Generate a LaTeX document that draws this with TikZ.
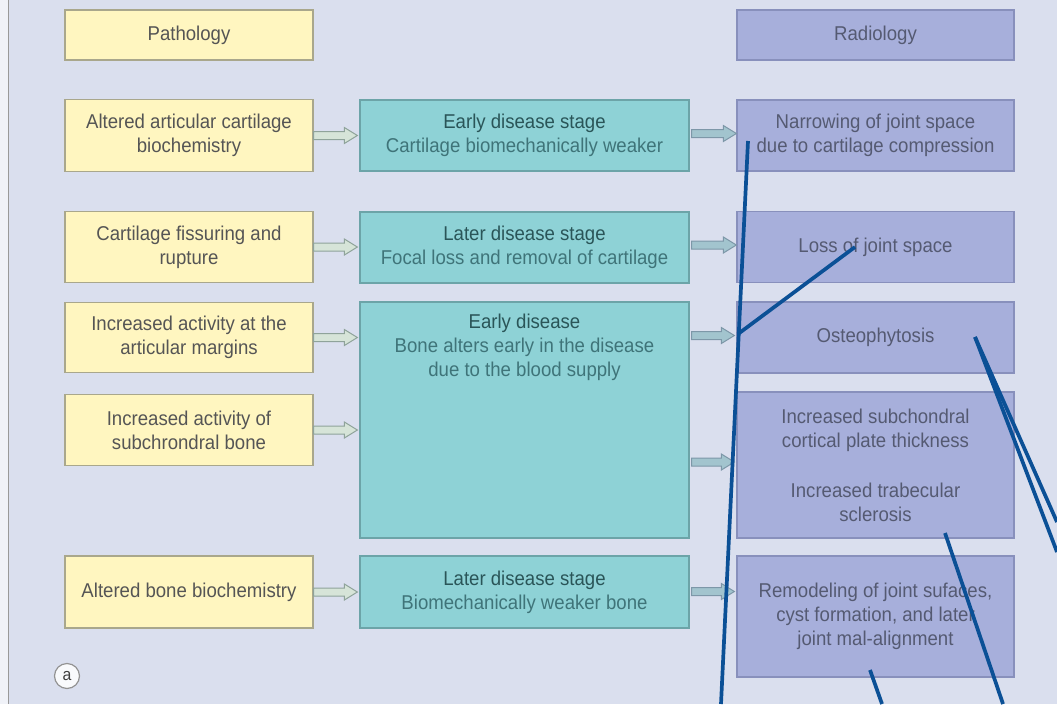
\documentclass[tikz,border=0pt]{standalone}
\usepackage{fontspec}
\setmainfont{Liberation Sans}[FakeStretch=0.93]
\usetikzlibrary{calc}
\definecolor{bgc}{HTML}{DADFEE}
\definecolor{yfill}{HTML}{FFF6C0}
\definecolor{ydraw}{HTML}{A9A78C}
\definecolor{tfill}{HTML}{8ED2D6}
\definecolor{tdraw}{HTML}{6CA4A8}
\definecolor{pfill}{HTML}{A7AFDB}
\definecolor{pdraw}{HTML}{8890BC}
\definecolor{ytext}{HTML}{555555}
\definecolor{ttitle}{HTML}{2A5558}
\definecolor{ttext}{HTML}{3F7479}
\definecolor{ptext}{HTML}{555A72}
\definecolor{ann}{HTML}{0B5096}
\definecolor{afill1}{HTML}{D6E4D8}
\definecolor{adraw1}{HTML}{8FA39A}
\definecolor{afill2}{HTML}{A2C4CE}
\definecolor{adraw2}{HTML}{7D97A8}
\tikzset{
  base/.style={rectangle, inner sep=0pt, align=center, line width=1.3pt,
     font=\fontsize{20}{24}\selectfont},
  ybox/.style={base, fill=yfill, draw=ydraw, text=ytext, minimum width=248pt},
  tbox/.style={base, fill=tfill, draw=tdraw, text=ttext, minimum width=329pt},
  pbox/.style={base, fill=pfill, draw=pdraw, text=ptext, minimum width=277pt},
  arr1/.style={fill=afill1, draw=adraw1, line width=1pt, line join=miter},
  arr2/.style={fill=afill2, draw=adraw2, line width=1pt, line join=miter},
  annline/.style={draw=ann, line width=3.7pt},
}
\newcommand\hollowarrow[3]{%
  \path (#2) coordinate (hs) (#3) coordinate (he);
  \draw[#1] ($(hs)+(0,-4)$) -- ($(he)+(-13,-4)$) -- ($(he)+(-13,-8)$) -- (he)
    -- ($(he)+(-13,8)$) -- ($(he)+(-13,4)$) -- ($(hs)+(0,4)$) -- cycle;}
\newcommand\ttl[1]{{\color{ttitle}#1}}
\begin{document}
\begin{tikzpicture}[x=1pt,y=-1pt]
\useasboundingbox (0,0) rectangle (1057,704);
\fill[bgc] (0,0) rectangle (1057,704);
\fill[white!60!bgc] (0,0) rectangle (8,704);
\draw[gray!80, line width=1pt] (8,0) -- (8,704);

% headers
\node[ybox, minimum height=50pt] (path) at (189,35) {Pathology};
\node[pbox, minimum height=50pt] (rad) at (875.5,35) {Radiology};

% row 1
\node[ybox, minimum height=72pt] (y1) at (189,135.5) {Altered articular cartilage\\biochemistry};
\node[tbox, minimum height=71pt] (t1) at (524.5,135.5) {\ttl{Early disease stage}\\Cartilage biomechanically weaker};
\node[pbox, minimum height=71pt] (r1) at (875.5,135.5) {Narrowing of joint space\\due to cartilage compression};

% row 2
\node[ybox, minimum height=71pt] (y2) at (189,247) {Cartilage fissuring and\\rupture};
\node[tbox, minimum height=71pt] (t2) at (524.5,247.5) {\ttl{Later disease stage}\\Focal loss and removal of cartilage};
\node[pbox, minimum height=71pt] (r2) at (875.5,247) {Loss of joint space};

% rows 3-4
\node[ybox, minimum height=70pt] (y3) at (189,337.5) {Increased activity at the\\articular margins};
\node[ybox, minimum height=71pt] (y4) at (189,430) {Increased activity of\\subchrondral bone};
\node[tbox, minimum height=236pt,
  label={[base, text=ttext, anchor=north, yshift=-12pt]north:{\ttl{Early disease}\\Bone alters early in the disease\\due to the blood supply}}]
  (t3) at (524.5,420) {};
\node[pbox, minimum height=71pt] (r3) at (875.5,337.5) {Osteophytosis};
\node[pbox, minimum height=146pt] (r4) at (875.5,465) {Increased subchondral\\cortical plate thickness\\[26pt]Increased trabecular\\sclerosis};

% row 5
\node[ybox, minimum height=72pt] (y5) at (189,592) {Altered bone biochemistry};
\node[tbox, minimum height=72pt] (t5) at (524.5,592) {\ttl{Later disease stage}\\Biomechanically weaker bone};
\node[pbox, minimum height=121pt] (r5) at (875.5,616.5) {Remodeling of joint sufaces,\\cyst formation, and later\\joint mal-alignment};

% label
\node[circle, draw=gray!85, fill=white!85!bgc, line width=1.2pt, minimum size=25pt, inner sep=0pt,
  font=\fontsize{17}{18}\selectfont, text=black!75] (lbl) at (67,676) {a};

% arrows pathology -> stage
\hollowarrow{arr1}{y1.east}{$(t1.west)+(-2,0)$}
\hollowarrow{arr1}{y2.east}{$(t2.west |- y2)+(-2,0)$}
\hollowarrow{arr1}{y3.east}{$(t3.west |- y3)+(-2,0)$}
\hollowarrow{arr1}{y4.east}{$(t3.west |- y4)+(-2,0)$}
\hollowarrow{arr1}{y5.east}{$(t5.west)+(-2,0)$}
% arrows stage -> radiology
\hollowarrow{arr2}{$(t1.east)+(2,-2)$}{$(r1.west)+(0,-2)$}
\hollowarrow{arr2}{$(t2.east |- r2)+(2,-2)$}{$(r2.west)+(0,-2)$}
\hollowarrow{arr2}{$(t3.east |- r3)+(2,-2)$}{$(r3.west)+(-2,-2)$}
\hollowarrow{arr2}{$(t3.east |- r4)+(2,-3)$}{$(r4.west)+(-2,-3)$}
\hollowarrow{arr2}{$(t5.east |- r5)+(2,-25)$}{$(r5.west)+(-2,-25)$}

% annotation lines
\coordinate (a1s) at (748,141);
\coordinate (a1e) at (721,704);
\coordinate (a2s) at (855,247);
\coordinate (a2e) at (738,334);
\coordinate (a3s) at (975,337);
\coordinate (a3e) at (1057,522);
\coordinate (a3f) at (1057,552);
\coordinate (a4s) at (945,533);
\coordinate (a4e) at (1003,704);
\coordinate (a5s) at (870,670);
\coordinate (a5e) at (882,704);
\begin{scope}
\clip (0,0) rectangle (1057,704);
\draw[annline] (a1s) -- (a1e);
\draw[annline] (a2s) -- (a2e);
\draw[annline] (a3s) -- (a3e);
\draw[annline] (a3s) -- (a3f);
\draw[annline] (a4s) -- (a4e);
\draw[annline] (a5s) -- (a5e);
\end{scope}
\end{tikzpicture}
\end{document}
